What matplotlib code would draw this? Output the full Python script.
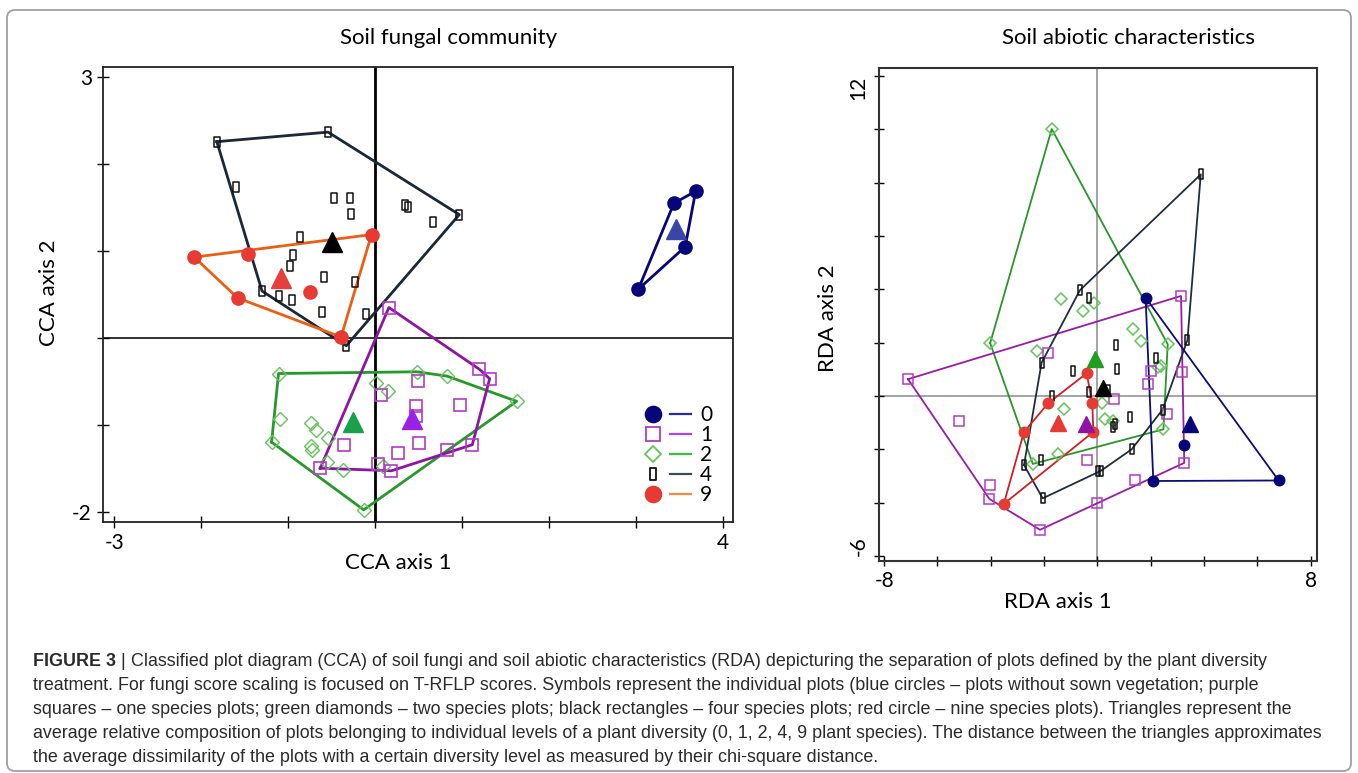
import numpy as np
import matplotlib
matplotlib.use("Agg")
import matplotlib.pyplot as plt
from matplotlib.path import Path
from matplotlib.lines import Line2D
from matplotlib.legend_handler import HandlerTuple
from matplotlib.patches import FancyBboxPatch
from matplotlib import font_manager

# ---------------- data ----------------
levels = ["0", "1", "2", "4", "9"]

# CCA scores of the plots (soil fungal community)
cca_x0 = [3.03, 3.44, 3.69, 3.57]
cca_y0 = [0.56, 1.55, 1.69, 1.05]
cca_x1 = [0.16, 1.20, 1.32, 1.12, 0.83, 0.19, 0.03, -0.63, 0.50, 0.07, 0.47, 0.98, 0.47, -0.36, 0.51, 0.26]
cca_y1 = [0.35, -0.36, -0.47, -1.23, -1.29, -1.53, -1.45, -1.50, -0.50, -0.66, -0.78, -0.77, -0.90, -1.23, -1.21, -1.32]
cca_x2 = [-1.11, 0.48, 0.83, 1.63, -0.13, -1.19, 0.01, 0.15, -1.09, -0.74, -0.68, -0.54, -0.74, -0.73, -0.55, -0.37, 0.09]
cca_y2 = [-0.41, -0.39, -0.44, -0.73, -1.98, -1.20, -0.52, -0.61, -0.93, -0.98, -1.06, -1.15, -1.24, -1.29, -1.43, -1.52, -1.47]
cca_x4 = [-1.82, -0.54, 0.97, -0.33, -1.30, -1.60, -0.47, -0.29, -0.28, 0.35, 0.38, 0.67, -0.86, -0.94, -0.98, -0.59, -0.23, -1.10, -0.95, -0.61, -0.10]
cca_y4 = [2.26, 2.37, 1.42, -0.09, 0.54, 1.74, 1.61, 1.61, 1.43, 1.53, 1.51, 1.33, 1.16, 0.95, 0.83, 0.70, 0.64, 0.48, 0.44, 0.30, 0.28]
cca_x9 = [-2.08, -1.46, -0.04, -0.39, -1.58, -0.75]
cca_y9 = [0.93, 0.97, 1.19, 0.01, 0.46, 0.53]
# group centroids (triangles), in the order of `levels`
cca_tri_x = [3.46, 0.43, -0.25, -0.49, -1.08]
cca_tri_y = [1.25, -0.93, -0.97, 1.10, 0.69]

# RDA scores of the plots (soil abiotic characteristics)
rda_x0 = [1.81, 2.10, 6.80, 3.25]
rda_y0 = [3.69, -3.19, -3.17, -1.85]
rda_x1 = [-7.10, -5.19, -4.02, -4.05, -2.15, 0.00, -0.37, 0.64, -1.84, 3.14, 3.18, 2.00, 1.91, 2.60, 3.26, 1.41]
rda_y1 = [0.63, -0.95, -3.33, -3.86, -5.02, -4.01, -2.40, -0.11, 1.62, 3.75, 0.89, 0.95, 0.44, -0.67, -2.51, -3.15]
rda_x2 = [-1.71, -4.02, -1.36, -0.55, -0.12, 1.33, 1.65, -2.28, 2.64, 2.38, 2.28, 2.48, -2.42, -1.49, -1.24, 0.19, 0.29, 0.60]
rda_y2 = [10.01, 1.98, 3.64, 3.19, 3.50, 2.51, 2.07, 1.70, 1.94, 1.14, 1.10, -1.25, -2.55, -2.19, -0.49, -0.27, -0.85, -0.94]
rda_x4 = [3.88, -0.65, -0.32, 0.70, -2.09, -0.90, 0.75, -0.30, -1.69, 0.40, 2.19, 3.38, 2.45, 1.23, 0.68, 0.60, 1.29, 0.03, 0.13, -2.75, -2.11, -2.05]
rda_y4 = [8.31, 3.97, 3.69, 1.90, 1.25, 0.94, 1.00, 0.14, 0.00, 0.22, 1.41, 2.10, -0.51, -0.78, -1.04, -1.18, -2.00, -2.81, -2.81, -2.59, -2.40, -3.84]
rda_x9 = [-0.40, -1.84, -2.75, -3.51, -0.15, -0.19]
rda_y9 = [0.85, -0.27, -1.35, -4.05, -1.35, -0.27]
rda_tri_x = [3.48, -0.44, -0.08, 0.22, -1.46]
rda_tri_y = [-1.07, -1.07, 1.38, 0.28, -1.00]

titles = ["Soil fungal community", "Soil abiotic characteristics"]
caption_lines = [
    "Classified plot diagram (CCA) of soil fungi and soil abiotic characteristics (RDA) depicturing the separation of plots defined by the plant diversity",
    "treatment. For fungi score scaling is focused on T-RFLP scores. Symbols represent the individual plots (blue circles \u2013 plots without sown vegetation; purple",
    "squares \u2013 one species plots; green diamonds \u2013 two species plots; black rectangles \u2013 four species plots; red circle \u2013 nine species plots). Triangles represent the",
    "average relative composition of plots belonging to individual levels of a plant diversity (0, 1, 2, 4, 9 plant species). The distance between the triangles approximates",
    "the average dissimilarity of the plots with a certain diversity level as measured by their chi-square distance.",
]

# ---------------- helpers ----------------
def convex_hull(xs, ys):
    pts = sorted(set(zip(xs, ys)))
    if len(pts) < 3:
        return pts
    def cross(o, a, b):
        return (a[0] - o[0]) * (b[1] - o[1]) - (a[1] - o[1]) * (b[0] - o[0])
    lower, upper = [], []
    for p in pts:
        while len(lower) >= 2 and cross(lower[-2], lower[-1], p) <= 0:
            lower.pop()
        lower.append(p)
    for p in reversed(pts):
        while len(upper) >= 2 and cross(upper[-2], upper[-1], p) <= 0:
            upper.pop()
        upper.append(p)
    return lower[:-1] + upper[:-1]

rect_marker = Path([(-0.5, -1), (0.5, -1), (0.5, 1), (-0.5, 1), (-0.5, -1)],
                   [Path.MOVETO, Path.LINETO, Path.LINETO, Path.LINETO, Path.CLOSEPOLY])

def pick_font(names):
    for n in names:
        try:
            font_manager.findfont(n, fallback_to_default=False)
            return n
        except Exception:
            pass
    return "DejaVu Sans"

label_font = pick_font(["Lato", "Open Sans"])
cap_font = pick_font(["Liberation Sans Narrow", "Liberation Sans"])

plt.rcParams["font.family"] = [label_font, "DejaVu Sans"]

# marker/line styles per diversity level
NAVY = "#06067a"
styles = {
    "0": dict(marker="o", mfc=NAVY, mec=NAVY, line=NAVY, tri="#3b45a5", tri_r=NAVY, leg_line="#2a2aa0"),
    "1": dict(marker="s", mfc="none", mec="#b23cc4", line="#8e14a4", tri="#9a22e6", tri_r="#8e14a4", leg_line="#b040ff"),
    "2": dict(marker="D", mfc="none", mec="#62c65a", line="#27992a", tri="#17a24a", tri_r="#1f9e1f", leg_line="#3cc03c"),
    "4": dict(marker=rect_marker, mfc="none", mec="#111111", line="#1b2838", tri="#000000", tri_r="#000000", leg_line="#3b4a5c"),
    "9": dict(marker="o", mfc="#e63a32", mec="#e63a32", line="#ea5f14", tri="#e6403c", tri_r="#e63a32", leg_line="#f08a45"),
}
line_r = {"0": "#0d0d7a", "1": "#9a1aa8", "2": "#2a962a", "4": "#1f2d3d", "9": "#d21e22"}

W, H = 1358, 773
fig = plt.figure(figsize=(W / 100, H / 100), dpi=100)

# outer frame of the figure
frame = FancyBboxPatch((0.07, 0.02), 13.44, 7.61, boxstyle="round,pad=0,rounding_size=0.08",
                       transform=fig.dpi_scale_trans, fill=False, ec="#a0a0a0", lw=1.3)
fig.patches.append(frame)

def axes_px(l, t, r, b):
    return fig.add_axes([l / W, 1 - b / H, (r - l) / W, (b - t) / H])

# ================= CCA panel =================
ax = axes_px(103, 67, 733, 522)
ax.set_xlim(-3.13, 4.12)
ax.set_ylim(-2.12, 3.12)
ax.axvline(0, color="black", lw=2.0, zorder=1)
ax.axhline(0, color="#222222", lw=1.3, zorder=1)

cca_data = {"0": (cca_x0, cca_y0), "1": (cca_x1, cca_y1), "2": (cca_x2, cca_y2),
            "4": (cca_x4, cca_y4), "9": (cca_x9, cca_y9)}
ms_l = {"0": 9.5, "1": 8.5, "2": 7.0, "4": 7.5, "9": 9.5}
mew_l = {"0": 1, "1": 1.2, "2": 1.0, "4": 1.1, "9": 1}
for lev in ["4", "9", "2", "1", "0"]:
    xs, ys = cca_data[lev]
    st = styles[lev]
    hull = convex_hull(xs, ys)
    hx = [p[0] for p in hull] + [hull[0][0]]
    hy = [p[1] for p in hull] + [hull[0][1]]
    ax.plot(hx, hy, color=st["line"], lw=2.0, zorder=2)
    ax.plot(xs, ys, ls="none", marker=st["marker"], ms=ms_l[lev], mfc=st["mfc"],
            mec=st["mec"], mew=mew_l[lev], zorder=3)
for i, lev in enumerate(levels):
    ax.plot(cca_tri_x[i], cca_tri_y[i], ls="none", marker="^", ms=14,
            color=styles[lev]["tri"], mec=styles[lev]["tri"], zorder=4)

ax.set_xticks(range(-3, 5))
ax.set_xticklabels(["-3", "", "", "", "", "", "", "4"])
ax.set_yticks(range(-2, 4))
ax.set_yticklabels(["-2", "", "", "", "", "3"])
ax.tick_params(direction="inout", length=8, width=1, labelsize=15, colors="black", pad=4)
for s in ax.spines.values():
    s.set_linewidth(1.3)
    s.set_color("#222222")
ax.set_xlabel("CCA axis 1", fontsize=16)
ax.set_ylabel("CCA axis 2", fontsize=16)
ax.xaxis.set_label_coords(0.468, -0.068)
ax.yaxis.set_label_coords(-0.07, 0.503)

leg_handles = []
for lev in levels:
    st = styles[lev]
    mk = Line2D([], [], ls="none", marker=st["marker"], ms=ms_l[lev] * 1.2,
                mfc=st["mfc"], mec=st["mec"], mew=1.3)
    ln = Line2D([], [], color=st["leg_line"], lw=1.6)
    leg_handles.append((mk, ln))
ax.legend(leg_handles, levels, handler_map={tuple: HandlerTuple(ndivide=None, pad=0.3)},
          loc="lower right", bbox_to_anchor=(0.99, 0.005), frameon=False,
          fontsize=15, handlelength=2.3, handletextpad=0.45, labelspacing=0.0,
          borderpad=0.2)

# ================= RDA panel =================
ax2 = axes_px(879, 68, 1317, 561)
ax2.set_xlim(-8.19, 8.24)
ax2.set_ylim(-6.19, 12.30)
ax2.axvline(0, color="#8a8a8a", lw=1.1, zorder=1)
ax2.axhline(0, color="#8a8a8a", lw=1.1, zorder=1)

rda_data = {"0": (rda_x0, rda_y0), "1": (rda_x1, rda_y1), "2": (rda_x2, rda_y2),
            "4": (rda_x4, rda_y4), "9": (rda_x9, rda_y9)}
ms_r = {"0": 7.5, "1": 7.0, "2": 5.8, "4": 6.8, "9": 7.5}
for lev in ["2", "1", "4", "0", "9"]:
    xs, ys = rda_data[lev]
    st = styles[lev]
    hull = convex_hull(xs, ys)
    hx = [p[0] for p in hull] + [hull[0][0]]
    hy = [p[1] for p in hull] + [hull[0][1]]
    ax2.plot(hx, hy, color=line_r[lev], lw=1.3, zorder=2)
    ax2.plot(xs, ys, ls="none", marker=st["marker"], ms=ms_r[lev], mfc=st["mfc"],
             mec=st["mec"], mew=1.1, zorder=3)
for i, lev in enumerate(levels):
    ax2.plot(rda_tri_x[i], rda_tri_y[i], ls="none", marker="^", ms=11,
             color=styles[lev]["tri_r"], mec=styles[lev]["tri_r"], zorder=4)

ax2.set_xticks(range(-8, 9, 2))
ax2.set_xticklabels(["-8"] + [""] * 7 + ["8"])
ax2.set_yticks(range(-6, 13, 2))
ylabs = ax2.set_yticklabels(["-6"] + [""] * 8 + ["12"], rotation=90)
ylabs[0].set_va("bottom")
ylabs[-1].set_va("top")
ax2.tick_params(direction="inout", length=7, width=1, labelsize=15, colors="black", pad=4)
for s in ax2.spines.values():
    s.set_linewidth(1.5)
    s.set_color("#333333")
ax2.set_xlabel("RDA axis 1", fontsize=16)
ax2.set_ylabel("RDA axis 2", fontsize=16)
ax2.xaxis.set_label_coords(0.409, -0.063)
ax2.yaxis.set_label_coords(-0.094, 0.493)

# panel titles
fig.text(449 / W, 1 - 38 / H, titles[0], ha="center", va="center", fontsize=16)
fig.text(1129 / W, 1 - 38 / H, titles[1], ha="center", va="center", fontsize=16)

# ================= caption =================
renderer = fig.canvas.get_renderer()
cap_kw = dict(fontsize=12.9, color="#2b2b2b", va="center", family=[cap_font, "DejaVu Sans"])
y0 = 661
bold = fig.text(33 / W, 1 - y0 / H, "FIGURE 3", fontweight="bold", **cap_kw)
bb = bold.get_window_extent(renderer)
bar = fig.text(bb.x1 / W, 1 - y0 / H, " | ", **cap_kw)
bb2 = bar.get_window_extent(renderer)
fig.text(bb2.x1 / W, 1 - y0 / H, caption_lines[0], **cap_kw)
for k, line in enumerate(caption_lines[1:], start=1):
    fig.text(33 / W, 1 - (y0 + 24 * k) / H, line, **cap_kw)

fig.savefig("out.png", dpi=100)
